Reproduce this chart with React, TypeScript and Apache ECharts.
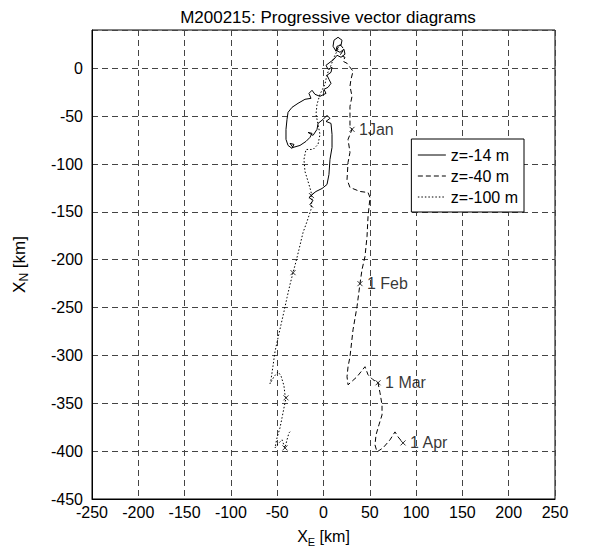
import React, { useEffect, useRef } from "react";
import * as echarts from "echarts";

const chartTitle = "M200215: Progressive vector diagrams";
const seriesNames = ["z=-14 m", "z=-40 m", "z=-100 m"];
const xRange = [-250, 250];
const yRange = [-450, 40];
const tickStep = 50;

// z = -14 m (solid)
const trackZ14: [number, number][] = [
  [13.5, 17.8], [10.3, 23], [11.3, 29.3], [15.7, 32.4], [20, 29.3], [18.9, 24.1],
  [14.6, 23], [13.5, 18.8], [17.8, 16.7], [22.1, 19.9], [23.2, 14.7], [18.9, 11.5],
  [14.6, 13.6], [11.3, 9.4], [7, 6.3], [2.7, 3.1], [4.9, -1], [9.2, 1],
  [8.1, -4.2], [3.8, -7.3], [5.9, -11.5], [8.1, -15.7], [4.9, -19.9], [0.5, -22],
  [2.7, -26.2], [-3.8, -29.3], [-9.2, -27.2], [-12.4, -23], [-15.7, -26.2],
  [-13.5, -31.4], [-20, -32.4], [-27.5, -36.6], [-34, -40.8], [-38.3, -46], [-39.4, -53.4],
  [-40.5, -63.8], [-40.5, -74.3], [-38.3, -80.6], [-34, -83.7], [-31.9, -79.5], [-36.2, -78.5],
  [-32.9, -82.7], [-25.4, -80.6], [-18.9, -76.4], [-14.6, -72.2], [-12.4, -68], [-16.7, -67],
  [-11.3, -70.1], [-7, -63.8], [-5.9, -57.6], [-0.5, -53.4], [3.8, -49.2], [7, -52.3],
  [2.7, -55.5], [8.1, -57.6], [9.2, -69.1], [9.2, -82.7], [7, -95.2], [5.9, -110.9],
  [3.8, -121.4], [-1.6, -125.6], [-8.1, -128.7], [-12.4, -131.9], [-15.7, -135], [-11.3, -138.1],
  [-14.6, -142.3], [-11.3, -145.5],
];

// z = -40 m (dashed)
const trackZ40: [number, number][] = [
  [13.5, 17.8], [17.8, 25.1], [22.1, 19.9], [17.8, 13.6], [23.2, 11.5], [21.1, 7.3],
  [25.4, 5.2], [31.9, -3.1], [29.7, -11.5], [28.6, -18.8], [30.8, -29.3], [28.6, -39.8],
  [28.6, -50.2], [28.6, -59.6], [30.8, -63.8], [26.5, -74.3], [28.6, -87.9], [26.5, -98.4],
  [25.4, -116.2], [28.6, -124.5], [39.4, -128.7], [48.1, -129.8], [50.2, -135], [48.1, -154.9],
  [47, -175.8], [44.8, -196.7], [41.6, -210.3], [39.4, -225], [36.2, -249], [31.9, -273.1],
  [28.6, -301.4], [26.5, -311.8], [25.4, -322.3], [26.5, -330.7], [36.2, -322.3], [44.8, -311.8],
  [48.1, -320.2], [53.5, -325.4], [58.9, -328.6], [61, -339], [63.2, -351.6], [63.2, -362.1],
  [59.9, -372.5], [56.7, -383], [55.6, -393.5], [57.8, -400.8], [64.3, -396.6], [71.8, -388.2],
  [77.2, -379.9], [80.5, -385.1], [85.9, -391.4],
];

// z = -100 m (dotted)
const trackZ100: [number, number][] = [
  [15.7, 19.9], [11.3, 11.5], [8.1, 3.1], [3.8, -6.3], [1.6, -16.7], [-3.8, -27.2],
  [-7, -37.7], [-8.1, -48.1], [-5.9, -58.6], [-3.8, -69.1], [-5.9, -79.5], [-11.3, -84.8],
  [-18.9, -84.8], [-21.1, -95.2], [-20, -107.8], [-16.7, -118.2], [-13.5, -128.7], [-12.4, -137.1],
  [-13.5, -147.5], [-17.8, -160.1], [-22.1, -171.6], [-26.5, -189.4], [-29.7, -202], [-32.9, -213.5],
  [-36.2, -226], [-39.4, -239.6], [-42.7, -254.3], [-45.9, -267.9], [-49.1, -281.5], [-52.4, -296.1],
  [-54.5, -310.8], [-56.7, -325.4], [-57.8, -329.6], [-53.5, -322.3], [-49.1, -317.1], [-45.9, -321.3],
  [-42.7, -331.7], [-41.6, -341.1], [-40.5, -344.3], [-42.7, -354.8], [-44.8, -365.2], [-47, -375.7],
  [-50.2, -386.1], [-52.4, -396.6], [-49.1, -392.4], [-44.8, -388.2], [-41.6, -396.6], [-39.4, -388.2],
  [-37.3, -380.9], [-35.1, -378.8],
];

const monthLabels = ["1Jan", "1 Feb", "1 Mar", "1 Apr"];
const monthMarksZ40: [number, number][] = [[30.8, -63.8], [39.4, -225], [58.9, -328.6], [85.9, -391.4]];
const monthMarksZ100: [number, number][] = [[-13, -133], [-32.9, -213.5], [-40.5, -344.3], [-41.6, -396.6]];

const FONT = "Liberation Sans, Arial, sans-serif";
const crossSymbol = "path://M0,0L10,10M0,10L10,0";

export default function App() {
  const ref = useRef<HTMLDivElement>(null);
  useEffect(() => {
    if (!ref.current) return;
    const chart = echarts.init(ref.current, null, { renderer: "svg" });
    const axisCommon = {
      type: "value" as const,
      interval: tickStep,
      axisLine: { show: true, onZero: false, lineStyle: { color: "#000", width: 1 } },
      axisTick: { show: false },
      splitLine: { show: true, lineStyle: { color: "#444", width: 1, type: [6, 4] } },
      nameLocation: "middle" as const,
    };
    chart.setOption({
      animation: false,
      backgroundColor: "#fff",
      textStyle: { fontFamily: FONT },
      title: {
        text: chartTitle,
        left: 323,
        top: 4,
        textAlign: "center",
        textStyle: { fontFamily: FONT, fontSize: 17, fontWeight: "normal", color: "#000" },
      },
      grid: {
        left: 92, right: 34, top: 30, bottom: 55,
        show: true, borderColor: "#000", borderWidth: 1, backgroundColor: "transparent",
        outerBoundsMode: "none",
      },
      xAxis: {
        ...axisCommon,
        min: xRange[0], max: xRange[1],
        name: "X{sub|E} [km]",
        nameGap: 27,
        nameTextStyle: {
          fontFamily: FONT, fontSize: 16, color: "#000", verticalAlign: "top",
          rich: { sub: { fontFamily: FONT, fontSize: 11, color: "#000", padding: [10, 0, 0, 0] } },
        },
        axisLabel: { color: "#000", fontFamily: FONT, fontSize: 16, margin: 5 },
      },
      yAxis: {
        ...axisCommon,
        min: yRange[0], max: yRange[1],
        name: "X{sub|N} [km]",
        nameGap: 62,
        nameTextStyle: {
          fontFamily: FONT, fontSize: 17, color: "#000",
          rich: { sub: { fontFamily: FONT, fontSize: 12, color: "#000", padding: [10, 0, 0, 0] } },
        },
        axisLabel: { color: "#000", fontFamily: FONT, fontSize: 16, margin: 9, showMaxLabel: false },
      },
      legend: {
        data: seriesNames,
        orient: "vertical",
        right: 65,
        top: 139,
        backgroundColor: "#fff",
        borderColor: "#000",
        borderWidth: 1,
        borderRadius: 0,
        padding: [8, 6, 7, 6],
        itemGap: 5,
        itemWidth: 28,
        itemHeight: 16,
        itemStyle: { opacity: 0 },
        lineStyle: { width: 1 },
        textStyle: { fontFamily: FONT, fontSize: 16, color: "#000" },
      },
      series: [
        {
          name: seriesNames[0], type: "line", data: trackZ14, showSymbol: false, symbol: "none",
          lineStyle: { color: "#000", width: 1, type: "solid" }, itemStyle: { color: "#000" },
        },
        {
          name: seriesNames[1], type: "line", data: trackZ40, showSymbol: false, symbol: "none",
          lineStyle: { color: "#000", width: 1, type: [5, 3] }, itemStyle: { color: "#000" },
        },
        {
          name: seriesNames[2], type: "line", data: trackZ100, showSymbol: false, symbol: "none",
          lineStyle: { color: "#000", width: 1, type: [1.5, 2] }, itemStyle: { color: "#000" },
        },
        {
          name: "marks40", type: "scatter", data: monthMarksZ40, symbol: crossSymbol, symbolSize: 5,
          itemStyle: { color: "none", borderColor: "#000", borderWidth: 1 },
          label: {
            show: true, position: "right", distance: 2, color: "#000", fontFamily: FONT, fontSize: 16,
            formatter: (p: any) => monthLabels[p.dataIndex],
          },
        },
        {
          name: "marks100", type: "scatter", data: monthMarksZ100, symbol: crossSymbol, symbolSize: 5,
          itemStyle: { color: "none", borderColor: "#000", borderWidth: 1 },
        },
      ],
    });
    return () => chart.dispose();
  }, []);
  return <div ref={ref} style={{ position: "fixed", left: 0, top: 0, width: 589, height: 554 }} />;
}
